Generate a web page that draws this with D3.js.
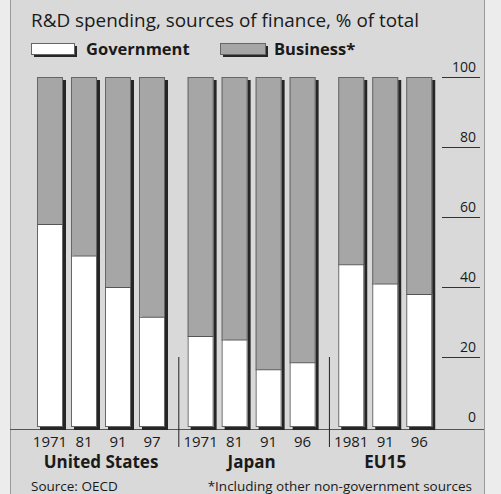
<!DOCTYPE html>
<html>
<head>
<meta charset="utf-8">
<script src="https://cdn.jsdelivr.net/npm/d3@7"></script>
<style>
  html, body { margin: 0; padding: 0; background: #ececec; }
  svg { display: block; }
  text { font-family: "Open Sans", "Noto Sans", sans-serif; fill: #1a1a1a; }
</style>
</head>
<body>
<svg id="chart" width="501" height="494"></svg>
<script>
// Government share of R&D funding, % of total (remainder is business and other sources)
const groups = ["United States", "Japan", "EU15"];
const years = [
  ["1971", "81", "91", "97"],
  ["1971", "81", "91", "96"],
  ["1981", "91", "96"]
];
const government = [
  [58, 49, 40, 31.5],
  [26, 25, 16.5, 18.5],
  [46.5, 41, 38]
];
const yTicks = [0, 20, 40, 60, 80, 100];

const svg = d3.select("#chart");
const W = 501, H = 494;

// panel
svg.append("rect").attr("x", 10).attr("y", 0).attr("width", 475).attr("height", H)
  .attr("fill", "#d9d9d9");
svg.append("line").attr("x1", 10.5).attr("x2", 10.5).attr("y1", 0).attr("y2", H)
  .attr("stroke", "#9a9a9a");
svg.append("line").attr("x1", 484.5).attr("x2", 484.5).attr("y1", 0).attr("y2", H)
  .attr("stroke", "#9a9a9a");

// flat list of bars with a slot position that leaves a gap between groups
const groupGap = 0.43;
const bars = [];
let slot = 0;
groups.forEach((g, gi) => {
  years[gi].forEach((yr, i) => {
    bars.push({ group: g, gi, year: yr, gov: government[gi][i], slot: slot + gi * groupGap });
    slot++;
  });
});

const x = d3.scaleLinear().domain([0, 1]).range([50, 84]);
const y = d3.scaleLinear().domain([0, 100]).range([427, 77]);
const barW = 26;

// y-axis ticks on the right
const tickG = svg.append("g");
yTicks.forEach(t => {
  if (t > 0) {
    tickG.append("line").attr("x1", 442).attr("x2", 480)
      .attr("y1", y(t) + 0.5).attr("y2", y(t) + 0.5)
      .attr("stroke", "#333").attr("stroke-width", 1);
  }
  tickG.append("text").attr("x", 476).attr("y", y(t) - 5)
    .attr("text-anchor", "end").attr("font-size", 14).text(t);
});

// baseline
svg.append("line").attr("x1", 10).attr("x2", 484).attr("y1", 429.5).attr("y2", 429.5)
  .attr("stroke", "#555").attr("stroke-width", 1);

// group separators
const seps = [];
for (let gi = 1; gi < groups.length; gi++) {
  const prev = bars.filter(b => b.gi === gi - 1).pop();
  const next = bars.find(b => b.gi === gi);
  seps.push((x(prev.slot) + x(next.slot)) / 2 + 2);
}
svg.selectAll(".sep").data(seps).enter().append("line")
  .attr("x1", d => d + 0.5).attr("x2", d => d + 0.5)
  .attr("y1", y(20)).attr("y2", 447)
  .attr("stroke", "#222").attr("stroke-width", 1);

// bars
const bg = svg.append("g");
const barG = bg.selectAll(".bar").data(bars).enter().append("g");
barG.append("rect") // drop shadow
  .attr("x", d => x(d.slot) - barW / 2 + 3).attr("y", y(100) + 3)
  .attr("width", barW).attr("height", y(0) - y(100))
  .attr("fill", "#262626");
barG.append("rect") // business share
  .attr("x", d => x(d.slot) - barW / 2).attr("y", y(100))
  .attr("width", barW).attr("height", d => y(d.gov) - y(100))
  .attr("fill", "#a6a6a6");
barG.append("rect") // government share
  .attr("x", d => x(d.slot) - barW / 2).attr("y", d => y(d.gov))
  .attr("width", barW).attr("height", d => y(0) - y(d.gov))
  .attr("fill", "#ffffff");
barG.append("rect") // outline
  .attr("x", d => x(d.slot) - barW / 2 + 0.5).attr("y", y(100) + 0.5)
  .attr("width", barW - 1).attr("height", y(0) - y(100) - 1)
  .attr("fill", "none").attr("stroke", "#666").attr("stroke-width", 1);
barG.append("line")
  .attr("x1", d => x(d.slot) - barW / 2).attr("x2", d => x(d.slot) + barW / 2)
  .attr("y1", d => y(d.gov) + 0.5).attr("y2", d => y(d.gov) + 0.5)
  .attr("stroke", "#555");

// year labels
svg.selectAll(".yr").data(bars).enter().append("text")
  .attr("x", d => x(d.slot)).attr("y", 447)
  .attr("text-anchor", "middle").attr("font-size", 15).text(d => d.year);

// group labels
const groupCenters = groups.map((g, gi) => {
  const bs = bars.filter(b => b.gi === gi);
  return { g, cx: (x(bs[0].slot) + x(bs[bs.length - 1].slot)) / 2 };
});
svg.selectAll(".grp").data(groupCenters).enter().append("text")
  .attr("x", d => d.cx).attr("y", 468)
  .attr("text-anchor", "middle").attr("font-size", 17).attr("font-weight", "bold")
  .text(d => d.g);

// title and legend
svg.append("text").attr("x", 31).attr("y", 27).attr("font-size", 18.9)
  .text("R&D spending, sources of finance, % of total");

const legend = [
  { label: "Government", fill: "#ffffff", x: 31, w: 43, tx: 86 },
  { label: "Business*", fill: "#a6a6a6", x: 220, w: 45, tx: 274 }
];
const lg = svg.selectAll(".lg").data(legend).enter().append("g");
lg.append("rect").attr("x", d => d.x + 3).attr("y", 46).attr("width", d => d.w).attr("height", 11)
  .attr("fill", "#262626");
lg.append("rect").attr("x", d => d.x + 0.5).attr("y", 43.5).attr("width", d => d.w).attr("height", 11)
  .attr("fill", d => d.fill).attr("stroke", "#666");
lg.append("text").attr("x", d => d.tx).attr("y", 55).attr("font-size", 16.5).attr("font-weight", "bold")
  .text(d => d.label);

// footer
svg.append("text").attr("x", 31).attr("y", 491).attr("font-size", 13.5).text("Source: OECD");
svg.append("text").attr("x", 472).attr("y", 491).attr("font-size", 13.5).attr("text-anchor", "end")
  .text("*Including other non-government sources");
</script>
</body>
</html>
